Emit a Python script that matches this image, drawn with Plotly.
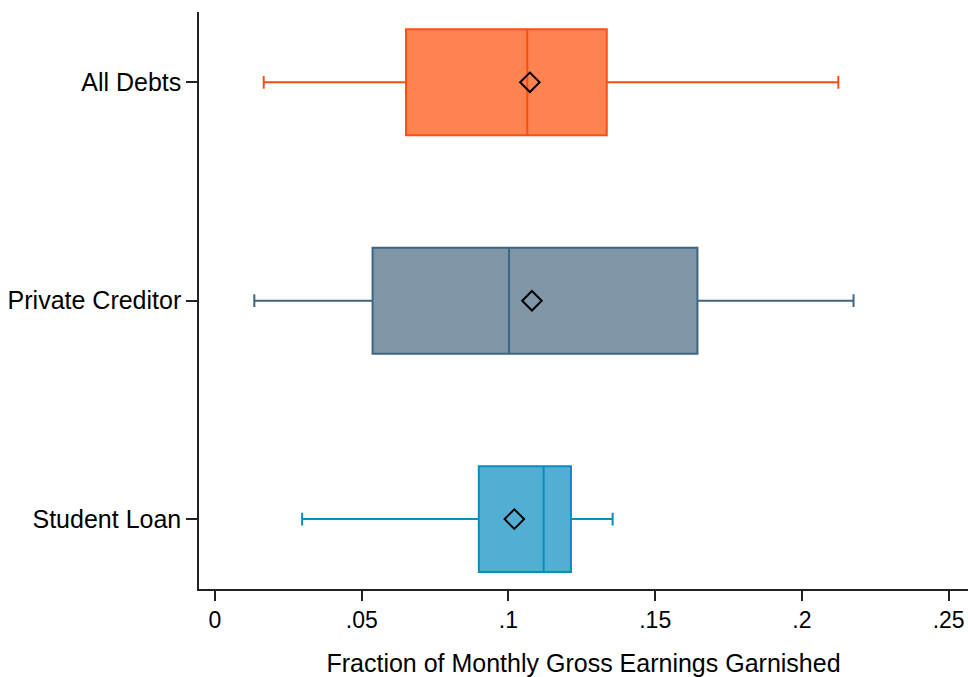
import plotly.graph_objects as go

# Summary statistics of the garnished share of monthly gross earnings
categories = ["All Debts", "Private Creditor", "Student Loan"]
lower_adj = [0.0166, 0.0134, 0.0297]
q1_vals = [0.0651, 0.0537, 0.0899]
median_vals = [0.1064, 0.1002, 0.1120]
q3_vals = [0.1335, 0.1644, 0.1213]
upper_adj = [0.2124, 0.2176, 0.1355]
mean_vals = [0.1073, 0.1080, 0.1020]

x_ticks = [0, 0.05, 0.10, 0.15, 0.20, 0.25]
x_tick_labels = ["0", ".05", ".1", ".15", ".2", ".25"]

fill_colors = ["#FF8251", "#7E96A8", "#52AFD4"]
line_colors = ["#FF4E12", "#3F6581", "#0B8CC0"]

positions = list(range(len(categories)))

fig = go.Figure()
for i, cat in enumerate(categories):
    fig.add_trace(go.Box(
        y=[positions[i]],
        q1=[q1_vals[i]],
        median=[median_vals[i]],
        q3=[q3_vals[i]],
        lowerfence=[lower_adj[i]],
        upperfence=[upper_adj[i]],
        orientation="h",
        width=0.485,
        whiskerwidth=0.12,
        fillcolor=fill_colors[i],
        line=dict(color=line_colors[i], width=2),
        name=cat,
        showlegend=False,
        hoverinfo="skip",
    ))

# Means drawn as hollow diamonds
fig.add_trace(go.Scatter(
    x=mean_vals,
    y=positions,
    mode="markers",
    marker=dict(symbol="diamond-open", size=15, color="black",
                line=dict(color="black", width=2)),
    showlegend=False,
    hoverinfo="skip",
))

font_family = "Liberation Sans, Arial, sans-serif"

fig.update_layout(
    width=968,
    height=677,
    margin=dict(l=199, r=0, t=12, b=88, pad=0),
    plot_bgcolor="white",
    paper_bgcolor="white",
    font=dict(family=font_family, color="black"),
    xaxis=dict(
        range=[-0.00545, 0.2566],
        tickvals=x_ticks,
        ticktext=x_tick_labels,
        ticks="outside",
        ticklen=10,
        tickwidth=1.5,
        tickcolor="#222222",
        tickfont=dict(size=23, family=font_family, color="black"),
        showline=True,
        linecolor="#222222",
        linewidth=1.5,
        showgrid=False,
        zeroline=False,
        title=dict(text="Fraction of Monthly Gross Earnings Garnished",
                   font=dict(size=25, family=font_family, color="black"),
                   standoff=22),
        automargin=False,
    ),
    yaxis=dict(
        range=[2.32, -0.322],
        tickvals=positions,
        ticktext=categories,
        ticks="outside",
        ticklen=11,
        tickwidth=1.5,
        tickcolor="#222222",
        tickfont=dict(size=25, family=font_family, color="black"),
        ticklabelstandoff=0,
        showline=True,
        linecolor="#222222",
        linewidth=1.5,
        showgrid=False,
        zeroline=False,
        automargin=False,
    ),
)

fig.write_html("out.html")
